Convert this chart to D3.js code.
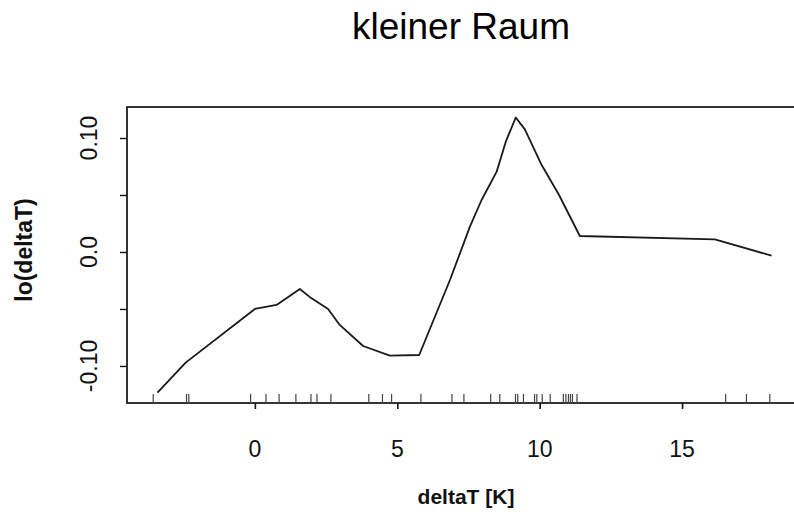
<!DOCTYPE html>
<html>
<head>
<meta charset="utf-8">
<script src="https://cdn.jsdelivr.net/npm/d3@7"></script>
<style>
  body { margin: 0; background: #fff; }
  svg { display: block; font-family: "Liberation Sans", Arial, Helvetica, sans-serif; }
  .title { font-size: 37px; }
  .tick-label { font-size: 23px; fill: #111; }
  .axis-title { font-weight: bold; fill: #111; }
</style>
</head>
<body>
<svg id="chart" width="794" height="515"></svg>
<script>
// loess fit
const fitX = [-3.42, -2.43, 0.0, 0.76, 1.58, 1.91, 2.57, 2.98, 3.80, 4.74, 5.77, 6.85, 7.55, 7.96, 8.49, 8.81, 9.16, 9.48, 10.07, 10.68, 11.41, 16.15, 18.14];
const fitY = [-0.1234, -0.0971, -0.050, -0.0465, -0.0325, -0.0392, -0.050, -0.064, -0.0825, -0.091, -0.0904, -0.0246, 0.0222, 0.0456, 0.0705, 0.0968, 0.118, 0.1076, 0.0763, 0.050, 0.014, 0.0111, -0.0032];

// rug of observed deltaT values
const rugX = [-3.57, -2.40, -2.32, -0.15, 0.39, 0.85, 1.44, 1.97, 2.18, 2.67, 4.00, 4.48, 4.80, 5.83, 6.92, 7.34,
  8.28, 8.60, 9.15, 9.23, 9.43, 9.82, 9.90, 10.09, 10.37, 10.83, 10.92, 11.01, 11.08, 11.15, 11.31, 16.53, 17.26, 18.08];

const xTicks = [0, 5, 10, 15];
const yTicks = [-0.10, -0.05, 0, 0.05, 0.10];
const yLabels = [[-0.10, '-0.10'], [0, '0.0'], [0.10, '0.10']];

const box = { left: 127, top: 107, right: 796, bottom: 403 };
const svg = d3.select('#chart');

const x = d3.scaleLinear().domain([-4.49, 19.0]).range([box.left, box.right]);
const y = d3.scaleLinear().domain([-0.1325, 0.1272]).range([box.bottom, box.top]);

svg.append('text')
  .attr('class', 'title')
  .attr('x', 461)
  .attr('y', 39)
  .attr('text-anchor', 'middle')
  .text('kleiner Raum');

// plot frame
svg.append('rect')
  .attr('x', box.left)
  .attr('y', box.top)
  .attr('width', box.right - box.left)
  .attr('height', box.bottom - box.top)
  .attr('fill', 'none')
  .attr('stroke', '#111')
  .attr('stroke-width', 1.7);

// x axis: ticks below frame, no domain line
const xAxis = svg.append('g')
  .attr('transform', `translate(0,${box.bottom})`)
  .call(d3.axisBottom(x).tickValues(xTicks).tickSize(6).tickFormat(''));
xAxis.select('.domain').remove();
xAxis.selectAll('line').attr('stroke', '#111').attr('stroke-width', 1.6);

svg.append('g').selectAll('text')
  .data(xTicks)
  .join('text')
  .attr('class', 'tick-label')
  .attr('x', d => x(d))
  .attr('y', 457)
  .attr('text-anchor', 'middle')
  .text(d => d);

const yAxis = svg.append('g')
  .attr('transform', `translate(${box.left},0)`)
  .call(d3.axisLeft(y).tickValues(yTicks).tickSize(7).tickFormat(''));
yAxis.select('.domain').remove();
yAxis.selectAll('line').attr('stroke', '#111').attr('stroke-width', 1.4);

svg.append('g').selectAll('text')
  .data(yLabels)
  .join('text')
  .attr('class', 'tick-label')
  .attr('transform', d => `translate(97,${y(d[0])}) rotate(-90)`)
  .attr('text-anchor', 'middle')
  .text(d => d[1]);

svg.append('text')
  .attr('class', 'axis-title')
  .attr('x', 466)
  .attr('y', 504)
  .attr('text-anchor', 'middle')
  .style('font-size', '21px')
  .text('deltaT [K]');

svg.append('text')
  .attr('class', 'axis-title')
  .attr('transform', 'translate(32,250) rotate(-90)')
  .attr('text-anchor', 'middle')
  .style('font-size', '23px')
  .text('lo(deltaT)');

// rug
svg.append('g').selectAll('line')
  .data(rugX)
  .join('line')
  .attr('x1', d => x(d))
  .attr('x2', d => x(d))
  .attr('y1', box.bottom)
  .attr('y2', box.bottom - 9)
  .attr('stroke', '#444')
  .attr('stroke-width', 1.2);

const line = d3.line()
  .x((d, i) => x(fitX[i]))
  .y(d => y(d));

svg.append('path')
  .datum(fitY)
  .attr('d', line)
  .attr('fill', 'none')
  .attr('stroke', '#1a1a1a')
  .attr('stroke-width', 1.8)
  .attr('stroke-linejoin', 'round');
</script>
</body>
</html>
